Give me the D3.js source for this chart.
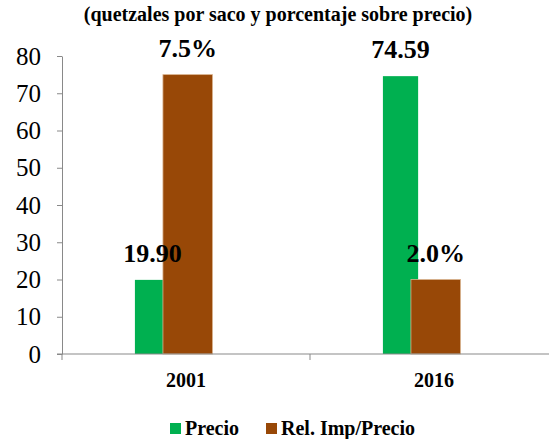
<!DOCTYPE html>
<html>
<head>
<meta charset="utf-8">
<script src="https://cdn.jsdelivr.net/npm/d3@7"></script>
<style>
  body { margin: 0; background: #fff; }
  svg text { font-family: "Liberation Serif", serif !important; fill: #000; }
</style>
</head>
<body>
<svg id="chart" width="549" height="439"></svg>
<script>
'use strict';

// data
const categories = ["2001", "2016"];
const precio = [19.90, 74.59];           // quetzales por saco
const relImp = [7.5, 2.0];               // % sobre precio
const yTicks = [0, 10, 20, 30, 40, 50, 60, 70, 80];
const seriesNames = ["Precio", "Rel. Imp/Precio"];
const colors = ["#00b050", "#984807"];
const pctScale = 10; // percent bars are drawn x10 on the same axis

const svg = d3.select("#chart");
const plotLeft = 62, plotRight = 558, plotTop = 56, plotBottom = 354;

const x = d3.scaleBand().domain(categories).range([plotLeft, plotRight]).paddingInner(0).paddingOuter(0);
const y = d3.scaleLinear().domain([0, 80]).range([plotBottom, plotTop]);
const bw = x.bandwidth();

// title
svg.append("text")
	.attr("x", 278).attr("y", 21)
	.attr("text-anchor", "middle")
	.style("font-size", "20px").style("font-weight", "bold")
	.text("(quetzales por saco y porcentaje sobre precio)");

// y axis
const yAxis = svg.append("g")
	.attr("transform", "translate(" + plotLeft + ",0)")
	.call(d3.axisLeft(y).tickValues(yTicks).tickSize(5).tickPadding(16).tickSizeOuter(0));
yAxis.attr("font-family", null).attr("font-size", null);
yAxis.select(".domain").attr("stroke", "#898989");
yAxis.selectAll(".tick line").attr("stroke", "#898989");
yAxis.selectAll(".tick text").style("font-size", "25px");

// bars: green first, brown drawn on top
const greenX = i => x(categories[i]) + bw * 0.5 - bw * 0.206;
const brownX = i => x(categories[i]) + bw * 0.5 - bw * 0.093;
const greenW = bw * 0.142, brownW = bw * 0.2;

svg.append("g").selectAll("rect")
	.data(precio)
	.join("rect")
	.attr("x", (d, i) => greenX(i))
	.attr("y", d => y(d))
	.attr("width", greenW)
	.attr("height", d => y(0) - y(d))
	.attr("fill", colors[0]);

svg.append("g").selectAll("rect")
	.data(relImp)
	.join("rect")
	.attr("x", (d, i) => brownX(i))
	.attr("y", d => y(d * pctScale))
	.attr("width", brownW)
	.attr("height", d => y(0) - y(d * pctScale))
	.attr("fill", colors[1])
	.attr("stroke", "#d9b38f").attr("stroke-width", 0.8);

// value labels
svg.append("g").selectAll("text")
	.data(precio)
	.join("text")
	.attr("x", (d, i) => greenX(i) + greenW / 2)
	.attr("y", d => y(d) - 18)
	.attr("text-anchor", "middle")
	.style("font-size", "26px").style("font-weight", "bold")
	.text(d => d.toFixed(2));

svg.append("g").selectAll("text")
	.data(relImp)
	.join("text")
	.attr("x", (d, i) => brownX(i) + brownW / 2)
	.attr("y", d => y(d * pctScale) - 18)
	.attr("text-anchor", "middle")
	.style("font-size", "26px").style("font-weight", "bold")
	.text(d => d.toFixed(1) + "%");

// x axis
svg.append("line")
	.attr("x1", plotLeft - 5).attr("x2", plotRight)
	.attr("y1", plotBottom).attr("y2", plotBottom)
	.attr("stroke", "#898989");
svg.append("g").selectAll("line")
	.data([categories[0], categories[1], null])
	.join("line")
	.attr("x1", d => d === null ? plotRight : x(d))
	.attr("x2", d => d === null ? plotRight : x(d))
	.attr("y1", plotBottom).attr("y2", plotBottom + 6)
	.attr("stroke", "#898989");
svg.append("g").selectAll("text")
	.data(categories)
	.join("text")
	.attr("x", d => x(d) + bw / 2)
	.attr("y", 387)
	.attr("text-anchor", "middle")
	.style("font-size", "20px").style("font-weight", "bold")
	.text(d => d);

// legend
const legend = svg.append("g");
const legX = [170, 266];
seriesNames.forEach((name, i) => {
	legend.append("rect")
		.attr("x", legX[i]).attr("y", 423)
		.attr("width", 11).attr("height", 11)
		.attr("fill", colors[i]);
	legend.append("text")
		.attr("x", legX[i] + 15).attr("y", 435)
		.style("font-size", "20px").style("font-weight", "bold")
		.text(name);
});
</script>
</body>
</html>
